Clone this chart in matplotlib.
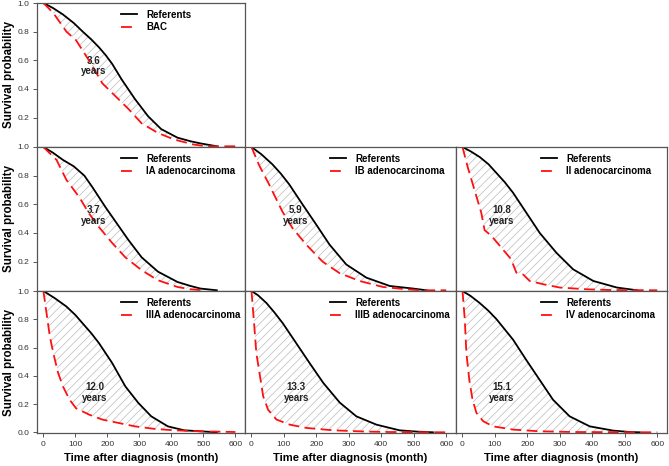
import matplotlib.pyplot as plt
import numpy as np

plt.rcParams['font.family'] = ['Liberation Sans', 'DejaVu Sans']
plt.rcParams['hatch.linewidth'] = 0.5

# months after diagnosis / survival probability
ref_bac_t = [0, 30, 61, 95, 123, 150, 174, 195, 215, 245, 286, 327, 368, 419, 460, 491, 542]
ref_bac_s = [1.0, 0.965, 0.92, 0.86, 0.80, 0.745, 0.69, 0.635, 0.575, 0.465, 0.33, 0.21, 0.12,
             0.06, 0.035, 0.02, 0.0]
bac_t = [0, 31, 72, 102, 128, 153, 184, 225, 266, 307, 358, 409, 470, 511, 603]
bac_s = [1.0, 0.93, 0.80, 0.74, 0.65, 0.56, 0.44, 0.35, 0.26, 0.16, 0.093, 0.047, 0.012, 0.0, 0.0]

ref_ia_t = [0, 30, 61, 95, 128, 153, 194, 230, 266, 307, 358, 419, 460, 491, 542]
ref_ia_s = [1.0, 0.96, 0.91, 0.865, 0.80, 0.72, 0.58, 0.465, 0.35, 0.23, 0.13, 0.058, 0.03,
            0.012, 0.0]
ia_t = [0, 41, 72, 112, 143, 174, 215, 256, 307, 358, 419, 460, 500]
ia_s = [1.0, 0.91, 0.77, 0.65, 0.535, 0.44, 0.33, 0.23, 0.14, 0.07, 0.023, 0.007, 0.0]

ref_ib_t = [0, 30, 64, 90, 116, 157, 199, 240, 292, 354, 426, 498, 539]
ref_ib_s = [1.0, 0.95, 0.88, 0.815, 0.74, 0.60, 0.46, 0.32, 0.18, 0.088, 0.03, 0.012, 0.0]
ib_t = [0, 23, 54, 95, 126, 168, 219, 271, 333, 405, 477, 519, 600]
ib_s = [1.0, 0.875, 0.74, 0.55, 0.435, 0.32, 0.20, 0.12, 0.065, 0.023, 0.007, 0.0, 0.0]

ref_ii_t = [0, 25, 53, 80, 104, 130, 156, 197, 238, 290, 341, 403, 476, 538]
ref_ii_s = [1.0, 0.97, 0.93, 0.88, 0.82, 0.755, 0.68, 0.54, 0.40, 0.26, 0.146, 0.065, 0.019, 0.0]
ii_t = [0, 16, 37, 58, 68, 89, 115, 146, 156, 166, 187, 207, 249, 300, 383, 455, 600]
ii_s = [1.0, 0.86, 0.70, 0.54, 0.42, 0.38, 0.31, 0.227, 0.18, 0.123, 0.11, 0.065, 0.042, 0.019,
        0.007, 0.002, 0.0]

ref_iiia_t = [0, 35, 72, 100, 123, 150, 174, 215, 256, 297, 337, 389, 440, 491, 542]
ref_iiia_s = [1.0, 0.95, 0.89, 0.83, 0.77, 0.70, 0.63, 0.49, 0.325, 0.207, 0.113, 0.042, 0.014,
              0.007, 0.0]
iiia_t = [0, 10, 20, 31, 46, 61, 82, 102, 143, 184, 235, 286, 348, 409, 491, 600]
iiia_s = [1.0, 0.84, 0.68, 0.56, 0.42, 0.325, 0.23, 0.17, 0.125, 0.09, 0.066, 0.042, 0.024,
          0.014, 0.007, 0.002]

ref_iiib_t = [0, 20, 46, 70, 97, 138, 179, 221, 272, 323, 385, 456, 508, 559]
ref_iiib_s = [1.0, 0.97, 0.915, 0.85, 0.77, 0.63, 0.49, 0.35, 0.21, 0.113, 0.054, 0.014, 0.005, 0.0]
iiib_t = [0, 7, 15, 26, 36, 51, 77, 118, 169, 251, 354, 426, 600]
iiib_s = [1.0, 0.80, 0.56, 0.40, 0.255, 0.16, 0.09, 0.054, 0.031, 0.014, 0.005, 0.002, 0.0]

ref_iv_t = [0, 25, 53, 80, 105, 156, 197, 238, 279, 330, 392, 464, 515, 546]
ref_iv_s = [1.0, 0.965, 0.915, 0.86, 0.80, 0.655, 0.51, 0.37, 0.23, 0.113, 0.042, 0.012, 0.002, 0.0]
iv_t = [0, 7, 12, 21, 31, 43, 64, 94, 156, 238, 341, 600]
iv_s = [1.0, 0.80, 0.56, 0.37, 0.23, 0.137, 0.078, 0.042, 0.019, 0.007, 0.002, 0.0]

labels = ['BAC', 'IA adenocarcinoma', 'IB adenocarcinoma', 'II adenocarcinoma',
          'IIIA adenocarcinoma', 'IIIB adenocarcinoma', 'IV adenocarcinoma']
gains = ['3.6', '3.7', '5.9', '10.8', '12.0', '13.3', '15.1']
gain_t = [156, 156, 135, 121, 160, 138, 120]
gain_s = [0.56, 0.52, 0.52, 0.52, 0.28, 0.28, 0.28]

panels = [
    (0, 0, ref_bac_t, ref_bac_s, bac_t, bac_s),
    (1, 0, ref_ia_t, ref_ia_s, ia_t, ia_s),
    (1, 1, ref_ib_t, ref_ib_s, ib_t, ib_s),
    (1, 2, ref_ii_t, ref_ii_s, ii_t, ii_s),
    (2, 0, ref_iiia_t, ref_iiia_s, iiia_t, iiia_s),
    (2, 1, ref_iiib_t, ref_iiib_s, iiib_t, iiib_s),
    (2, 2, ref_iv_t, ref_iv_s, iv_t, iv_s),
]

W, H = 669, 466
col_edges = [37, 245, 456, 667]
row_edges = [3, 147, 291, 433]

fig = plt.figure(figsize=(W / 100, H / 100), dpi=100)

for i, (r, c, rt, rs, gt, gs) in enumerate(panels):
    x0, x1 = col_edges[c], col_edges[c + 1]
    y0, y1 = row_edges[r], row_edges[r + 1]
    ax = fig.add_axes([x0 / W, 1 - y1 / H, (x1 - x0) / W, (y1 - y0) / H])

    # hatched area between the two curves
    ax.fill(np.r_[rt, gt[::-1]], np.r_[rs, gs[::-1]], facecolor='none',
            edgecolor='#bbbbbb', hatch='////', linewidth=0)
    ax.plot(rt, rs, color='black', lw=1.3, label='Referents')
    ax.plot(gt, gs, color='#ff1010', lw=1.3, dashes=(6, 3), label=labels[i])

    ax.text(gain_t[i], gain_s[i], gains[i] + '\nyears', ha='center', va='center',
            fontsize=7, fontweight='bold', color='#222222', linespacing=1.1)

    ax.set_xlim(-20, 630)
    ax.set_ylim(-0.005, 1.0)
    for sp in ax.spines.values():
        sp.set_color('#555555')
        sp.set_linewidth(0.9)

    if c == 0:
        ax.set_yticks([0.2, 0.4, 0.6, 0.8, 1.0] if r < 2 else [0, 0.2, 0.4, 0.6, 0.8, 1.0])
        ax.yaxis.set_major_formatter(plt.FormatStrFormatter('%.1f'))
        ax.set_ylabel('Survival probability', fontsize=8.3, fontweight='bold', labelpad=2)
    else:
        ax.set_yticks([])
    if r == 2:
        ax.set_xticks(range(0, 601, 100))
        ax.set_xlabel('Time after diagnosis (month)', fontsize=8.1, fontweight='bold', labelpad=4)
    else:
        ax.set_xticks([])
    ax.tick_params(labelsize=6, labelcolor='#333333', color='#555555', length=3, width=0.7, pad=2.5)

    ax.legend(loc='upper left', bbox_to_anchor=(0.37, 1.0), frameon=False, handlelength=1.7,
              handletextpad=0.9, borderaxespad=0.3, labelspacing=0.25,
              prop={'size': 7, 'weight': 'bold'})

fig.savefig('out.png', dpi=100)
